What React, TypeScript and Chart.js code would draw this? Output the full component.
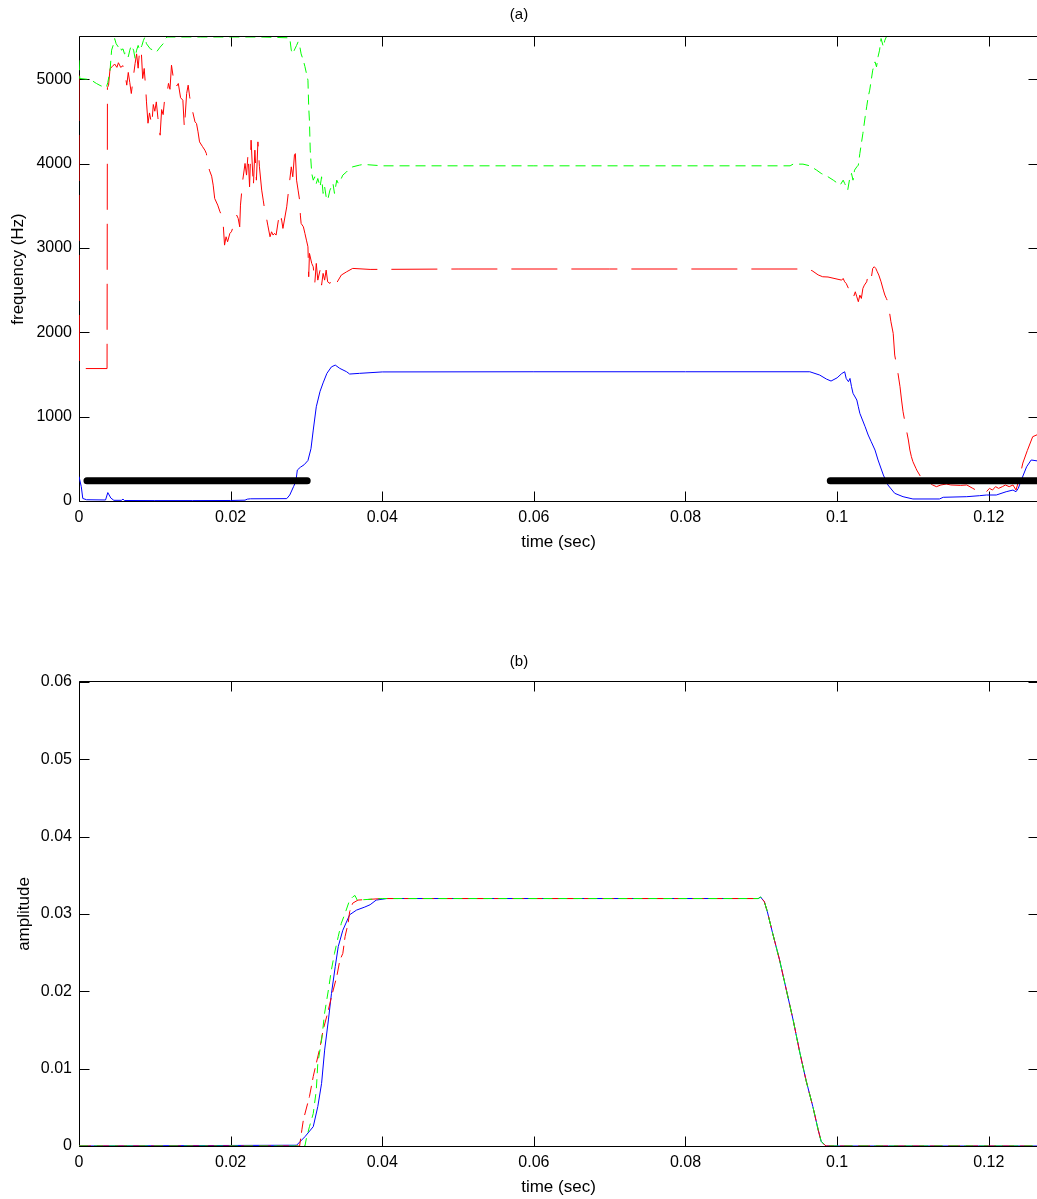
import React, { useEffect, useRef } from "react";
import { Chart, registerables } from "chart.js";

Chart.register(...registerables);

const FONT_FAMILY = "'Liberation Sans', Arial, Helvetica, sans-serif";

// ---------- tick labels ----------
const timeTicks = [0, 0.02, 0.04, 0.06, 0.08, 0.1, 0.12];
const freqTicks = [0, 1000, 2000, 3000, 4000, 5000];
const ampTicks = [0, 0.01, 0.02, 0.03, 0.04, 0.05, 0.06];

// ---------- (a) frequency tracks: [time (s), frequency (Hz)] ----------
const formant1: [number, number][] = [
  [0, 290], [0.0003, 170], [0.0005, 30], [0.001, 15], [0.0035, 12], [0.0038, 100], [0.0042, 35], [0.0046, 8],
  [0.0056, 8], [0.0058, 22], [0.006, 6], [0.01, 5], [0.015, 5], [0.02, 6], [0.0219, 10], [0.0222, 22], [0.0226, 26],
  [0.0274, 28], [0.0278, 71], [0.0283, 170], [0.0286, 230], [0.0288, 367], [0.0292, 400], [0.0297, 430], [0.0302, 480],
  [0.0306, 620], [0.0309, 841], [0.0313, 1117], [0.0318, 1300], [0.0322, 1400], [0.0327, 1513], [0.0333, 1590],
  [0.0338, 1611], [0.0344, 1572], [0.0353, 1532], [0.0357, 1505], [0.037, 1513], [0.04, 1530], [0.06, 1532],
  [0.08, 1532], [0.0964, 1532], [0.0977, 1493], [0.0986, 1445], [0.0992, 1422], [0.1, 1460], [0.1006, 1510],
  [0.101, 1532], [0.1012, 1453], [0.1015, 1414], [0.1017, 1453], [0.1019, 1355], [0.1021, 1276], [0.1026, 1197],
  [0.1028, 1117], [0.103, 1039], [0.1037, 880], [0.1041, 782], [0.1045, 703], [0.105, 604], [0.1054, 486],
  [0.1061, 308], [0.1067, 190], [0.1076, 91], [0.1087, 51], [0.11, 24], [0.1135, 24], [0.114, 44], [0.1171, 51],
  [0.1188, 63], [0.1197, 71], [0.121, 71], [0.1223, 110], [0.1232, 130], [0.1236, 110], [0.1239, 150], [0.1243, 249],
  [0.125, 406], [0.1256, 486], [0.1265, 474],
];

const formant2: [number, number][] = [
  [0, 5050], [0.00005, 1570], [0.0037, 1570], [0.00375, 4900], [0.0039, 4929], [0.0041, 5127], [0.0044, 5150],
  [0.0047, 5180], [0.005, 5140], [0.0052, 5195], [0.0055, 5140], [0.0058, 5160], [0.0061, 5047], [0.0063, 4929],
  [0.0065, 5080], [0.0067, 4960], [0.0069, 4830], [0.0072, 5050], [0.0074, 5186], [0.0076, 5300], [0.0078, 5130],
  [0.008, 5344], [0.0082, 5363], [0.0084, 5008], [0.0086, 5127], [0.0088, 4890], [0.0089, 4731], [0.0091, 4478],
  [0.0093, 4600], [0.0096, 4455], [0.0098, 4700], [0.01, 4620], [0.0102, 4731], [0.0104, 4550], [0.0107, 4336],
  [0.0109, 4640], [0.0111, 4580], [0.0113, 4770], [0.0116, 4820], [0.0118, 4950], [0.012, 4880], [0.0122, 5166],
  [0.0125, 4980], [0.0127, 5000], [0.0129, 4920], [0.0131, 4949], [0.0134, 4780], [0.0137, 4751], [0.0139, 4419],
  [0.0142, 4830], [0.0144, 4929], [0.0146, 4790], [0.0148, 4692], [0.015, 4613], [0.0153, 4494], [0.0155, 4475],
  [0.0157, 4376], [0.0159, 4257], [0.0163, 4200], [0.0166, 4159], [0.0168, 4119], [0.017, 4001], [0.0172, 3922],
  [0.0175, 3850], [0.0177, 3744], [0.0179, 3586], [0.0183, 3507], [0.0186, 3428], [0.0188, 3389], [0.019, 3310],
  [0.0192, 3033], [0.0194, 3132], [0.0196, 3073], [0.0199, 3172], [0.0201, 3191], [0.0205, 3290], [0.0208, 3389],
  [0.021, 3349], [0.0212, 3250], [0.0213, 3507], [0.0216, 3803], [0.0219, 4001], [0.0221, 3863], [0.0223, 4119],
  [0.0225, 3724], [0.0227, 4277], [0.023, 3724], [0.0232, 4159], [0.0234, 3803], [0.0236, 4257], [0.0238, 3961],
  [0.0241, 3685], [0.0243, 3566], [0.0245, 3448], [0.0247, 3369], [0.0249, 3270], [0.0252, 3132], [0.0254, 3191],
  [0.0256, 3152], [0.0258, 3172], [0.026, 3152], [0.0263, 3329], [0.0265, 3250], [0.0267, 3349], [0.0269, 3231],
  [0.0274, 3487], [0.0276, 3646], [0.0278, 3803], [0.028, 3961], [0.0282, 3843], [0.0285, 4198], [0.0287, 3803],
  [0.0289, 3685], [0.0291, 3566], [0.0292, 3389], [0.0293, 3290], [0.0296, 3250], [0.0298, 3172], [0.03, 3092],
  [0.0302, 3013], [0.0303, 2658], [0.0304, 2935], [0.0307, 2816], [0.0309, 2776], [0.0311, 2579], [0.0313, 2816],
  [0.0315, 2618], [0.0318, 2737], [0.032, 2559], [0.0322, 2698], [0.0324, 2618], [0.0326, 2737], [0.0328, 2598],
  [0.0331, 2579], [0.0333, 2618], [0.0335, 2598], [0.0337, 2638], [0.034, 2587], [0.0346, 2678], [0.0353, 2717],
  [0.0361, 2757], [0.0384, 2745], [0.05, 2750], [0.07, 2750], [0.0961, 2750], [0.0967, 2730], [0.0975, 2680],
  [0.0981, 2658], [0.0988, 2655], [0.1006, 2618], [0.1008, 2638], [0.101, 2598], [0.1012, 2579], [0.1015, 2520],
  [0.1017, 2480], [0.1019, 2461], [0.1021, 2401], [0.1024, 2480], [0.1026, 2420], [0.1028, 2362], [0.103, 2440],
  [0.1032, 2401], [0.1034, 2520], [0.1036, 2559], [0.1039, 2598], [0.1041, 2678], [0.1043, 2698], [0.1045, 2638],
  [0.1047, 2757], [0.1049, 2777], [0.1051, 2757], [0.1053, 2717], [0.1055, 2678], [0.1058, 2598], [0.1061, 2500],
  [0.1063, 2441], [0.1065, 2401], [0.1067, 2362], [0.1069, 2243], [0.1071, 2125], [0.1074, 1987], [0.1076, 1730],
  [0.108, 1532], [0.1083, 1354], [0.1085, 1197], [0.1087, 1058], [0.1091, 861], [0.1094, 723], [0.1096, 604],
  [0.1098, 525], [0.11, 466], [0.1104, 387], [0.1105, 367], [0.1112, 260], [0.1126, 190], [0.1131, 170],
  [0.1137, 190], [0.1144, 201], [0.115, 190], [0.1163, 185], [0.1171, 190], [0.1179, 150], [0.1183, 130],
  [0.1188, 99], [0.1192, 130], [0.1197, 110], [0.1201, 150], [0.1205, 130], [0.1209, 170], [0.1213, 150],
  [0.1218, 170], [0.1222, 190], [0.1227, 170], [0.1232, 190], [0.1236, 130], [0.1241, 288], [0.1245, 450],
  [0.1251, 600], [0.1258, 762], [0.1265, 790],
];

const formant3: [number, number][] = [
  [0, 5225], [0.0001, 5008], [0.001, 5000], [0.0016, 4990], [0.0023, 4949], [0.0029, 4920], [0.0036, 4901],
  [0.0038, 4960], [0.0041, 5107], [0.0043, 5344], [0.0045, 5400], [0.0047, 5482], [0.0049, 5420], [0.0052, 5380],
  [0.0054, 5400], [0.0056, 5344], [0.0058, 5360], [0.006, 5300], [0.0063, 5320], [0.0065, 5265], [0.0067, 5344],
  [0.0069, 5400], [0.0072, 5344], [0.0074, 5245], [0.0076, 5344], [0.0078, 5400], [0.008, 5344], [0.0083, 5400],
  [0.0085, 5460], [0.0087, 5500], [0.0089, 5420], [0.0094, 5360], [0.0098, 5344], [0.0102, 5320], [0.0107, 5380],
  [0.0111, 5420], [0.0114, 5480], [0.0116, 5500], [0.013, 5500], [0.016, 5500], [0.02, 5500], [0.024, 5500],
  [0.0278, 5490], [0.028, 5344], [0.0282, 5300], [0.0284, 5344], [0.0287, 5400], [0.0289, 5442], [0.0291, 5400],
  [0.0293, 5300], [0.0296, 5220], [0.0298, 5150], [0.0302, 4988], [0.0303, 4672], [0.0304, 4500], [0.0305, 4159],
  [0.0307, 3883], [0.0309, 3803], [0.0311, 3843], [0.0313, 3764], [0.0315, 3823], [0.0318, 3724], [0.032, 3843],
  [0.0322, 3646], [0.0324, 3724], [0.0326, 3606], [0.0328, 3566], [0.0331, 3685], [0.0333, 3724], [0.0335, 3764],
  [0.0337, 3646], [0.034, 3803], [0.0342, 3764], [0.0346, 3823], [0.0348, 3863], [0.0353, 3902], [0.0357, 3941],
  [0.0361, 3961], [0.037, 3981], [0.0375, 3990], [0.04, 3973], [0.06, 3973], [0.08, 3973], [0.0938, 3973],
  [0.0942, 3993], [0.0955, 3993], [0.0964, 3973], [0.0973, 3922], [0.0979, 3883], [0.0988, 3843], [0.0995, 3803],
  [0.1004, 3744], [0.1008, 3803], [0.101, 3764], [0.1014, 3685], [0.1017, 3843], [0.1019, 3883], [0.1021, 3803],
  [0.1023, 3922], [0.1026, 3961], [0.1028, 3981], [0.103, 4119], [0.1032, 4238], [0.1034, 4356], [0.1037, 4553],
  [0.1039, 4672], [0.1041, 4790], [0.1043, 4870], [0.1045, 4988], [0.1047, 5107], [0.105, 5205], [0.1052, 5146],
  [0.1054, 5265], [0.1056, 5344], [0.1058, 5482], [0.1061, 5383], [0.1063, 5462], [0.1065, 5502], [0.1068, 5600],
  [0.108, 5800],
];

// thick black bars (unvoiced regions) at a fixed frequency
const silenceBars: [number, number | null][] = [
  [0.00105, 240], [0.0301, 240], [0.065, null], [0.0991, 240], [0.1265, 240],
];

// ---------- (b) amplitude tracks: [time (s), amplitude] ----------
const amplitudeFall: [number, number][] = [
  [0.0896, 0.032], [0.0899, 0.0322], [0.0904, 0.0316], [0.0908, 0.0303], [0.0915, 0.0275], [0.0924, 0.0241],
  [0.0933, 0.0202], [0.0942, 0.0163], [0.0951, 0.012], [0.0959, 0.0085], [0.0968, 0.0051], [0.0975, 0.0021],
  [0.0979, 0.0006], [0.0984, 0.0001], [0.0986, 0], [0.1265, 0],
];

const amp1Rise: [number, number][] = [
  [0, 0], [0.0287, 0.0001], [0.0298, 0.0012], [0.0309, 0.0025], [0.0315, 0.0051], [0.032, 0.0081],
  [0.0324, 0.0124], [0.0329, 0.0163], [0.0333, 0.0197], [0.0338, 0.0232], [0.0342, 0.0258], [0.0348, 0.0279],
  [0.0357, 0.0299], [0.0366, 0.0305], [0.0377, 0.0309], [0.0384, 0.0312], [0.0392, 0.0318], [0.0406, 0.032],
];

const amp2Rise: [number, number][] = [
  [0, 0], [0.0291, 0], [0.0294, 0.0021], [0.0296, 0.0034], [0.0304, 0.0064], [0.0309, 0.009], [0.0313, 0.0107],
  [0.0318, 0.0128], [0.0322, 0.015], [0.0328, 0.0172], [0.0333, 0.0193], [0.034, 0.0219], [0.0344, 0.024],
  [0.0348, 0.0249], [0.0351, 0.0271], [0.0355, 0.0288], [0.0357, 0.0303], [0.0361, 0.0314], [0.0368, 0.0318],
  [0.04, 0.032],
];

const amp3Rise: [number, number][] = [
  [0, 0], [0.0298, 0], [0.03, 0.001], [0.0304, 0.0025], [0.0309, 0.0042], [0.0313, 0.0072], [0.0315, 0.0107],
  [0.032, 0.0137], [0.0324, 0.0172], [0.0329, 0.0202], [0.0333, 0.0228], [0.0337, 0.0249], [0.0342, 0.0271],
  [0.0346, 0.0288], [0.0351, 0.0301], [0.0357, 0.0318], [0.0361, 0.0322], [0.0364, 0.0324], [0.0367, 0.0318],
  [0.04, 0.032],
];

const amp1 = [...amp1Rise, ...amplitudeFall];
const amp2 = [...amp2Rise, ...amplitudeFall];
const amp3 = [...amp3Rise, ...amplitudeFall];

const toPoints = (pairs: [number, number | null][]) => pairs.map(([x, y]) => ({ x, y }));
const fmt = (v: any, scale: number) => String(Math.round(Number(v) * scale) / scale);

const frameTicks = {
  id: "frameTicks",
  beforeDatasetsDraw(chart: any) {
    const { ctx, chartArea } = chart;
    const left = Math.round(chartArea.left) + 0.5;
    const right = Math.round(chartArea.right) + 0.5;
    const top = Math.round(chartArea.top) - 0.5;
    const bottom = Math.round(chartArea.bottom) + 0.5;
    const len = 10;
    ctx.save();
    ctx.strokeStyle = "#000";
    ctx.lineWidth = 1;
    ctx.setLineDash([]);
    ctx.beginPath();
    ctx.rect(left, top, right - left, bottom - top);
    const xs = chart.scales.x;
    for (const t of xs.ticks) {
      const px = Math.round(xs.getPixelForValue(t.value)) + 0.5;
      ctx.moveTo(px, bottom);
      ctx.lineTo(px, bottom - len);
      ctx.moveTo(px, top);
      ctx.lineTo(px, top + len);
    }
    const ys = chart.scales.y;
    for (const t of ys.ticks) {
      const py = Math.round(ys.getPixelForValue(t.value)) + 0.5;
      ctx.moveTo(left, py);
      ctx.lineTo(left + len, py);
      ctx.moveTo(right, py);
      ctx.lineTo(right - len, py);
    }
    ctx.stroke();
    ctx.restore();
  },
};

const line = (data: any, color: string, dash: number[], width = 1) => ({
  type: "line",
  data,
  borderColor: color,
  backgroundColor: color,
  borderWidth: width,
  borderDash: dash,
  pointRadius: 0,
  tension: 0,
  fill: false,
  spanGaps: false,
});

function makeOptions(p: {
  title: string;
  titlePad: { top: number; bottom: number };
  xAxisHeight: number;
  xTitlePadBottom: number;
  yTitle: string;
  yTitlePadTop: number;
  yMax: number;
  yTicks: number[];
  yFmt: (v: any) => string;
}) {
  return {
    responsive: false,
    animation: false,
    devicePixelRatio: 1,
    layout: { padding: { top: 0, left: 0, right: 2, bottom: 0 } },
    plugins: {
      legend: { display: false },
      tooltip: { enabled: false },
      title: {
        display: true,
        text: p.title,
        color: "#000",
        font: { family: FONT_FAMILY, size: 15, weight: "normal" },
        padding: p.titlePad,
      },
    },
    scales: {
      x: {
        type: "linear",
        min: 0,
        max: 0.1265,
        grid: { display: false, drawTicks: false },
        border: { display: false },
        afterBuildTicks: (s: any) => {
          s.ticks = timeTicks.map((value) => ({ value }));
        },
        afterFit: (s: any) => {
          s.height = p.xAxisHeight;
        },
        ticks: {
          color: "#000",
          font: { family: FONT_FAMILY, size: 16 },
          padding: 7,
          maxRotation: 0,
          autoSkip: false,
          callback: (v: any) => fmt(v, 1000),
        },
        title: {
          display: true,
          text: "time (sec)",
          color: "#000",
          font: { family: FONT_FAMILY, size: 17 },
          padding: { top: 0, bottom: p.xTitlePadBottom },
        },
      },
      y: {
        type: "linear",
        min: 0,
        max: p.yMax,
        grid: { display: false, drawTicks: false },
        border: { display: false },
        afterBuildTicks: (s: any) => {
          s.ticks = p.yTicks.map((value) => ({ value }));
        },
        afterFit: (s: any) => {
          s.width = 79;
        },
        ticks: {
          color: "#000",
          font: { family: FONT_FAMILY, size: 16 },
          padding: 7,
          autoSkip: false,
          callback: p.yFmt,
        },
        title: {
          display: true,
          text: p.yTitle,
          color: "#000",
          font: { family: FONT_FAMILY, size: 17 },
          padding: { top: p.yTitlePadTop, bottom: 0 },
        },
      },
    },
  };
}

export default function App() {
  const topRef = useRef<HTMLCanvasElement | null>(null);
  const bottomRef = useRef<HTMLCanvasElement | null>(null);

  useEffect(() => {
    const top = new Chart(topRef.current as HTMLCanvasElement, {
      type: "line",
      data: {
        datasets: [
          line(toPoints(silenceBars), "#000000", [], 7) as any,
          line(toPoints(formant3), "#00ff00", [10, 6]) as any,
          line(toPoints(formant2), "#ff0000", [46, 14]) as any,
          line(toPoints(formant1), "#0000ff", []) as any,
        ].map((d: any, i: number) => (i === 0 ? { ...d, borderCapStyle: "round" } : d)),
      },
      options: makeOptions({
        title: "(a)",
        titlePad: { top: 6, bottom: 13 },
        xAxisHeight: 99,
        xTitlePadBottom: 47.8,
        yTitle: "frequency (Hz)",
        yTitlePadTop: 7.8,
        yMax: 5500,
        yTicks: freqTicks,
        yFmt: (v: any) => String(v),
      }) as any,
      plugins: [frameTicks],
    });

    const bottom = new Chart(bottomRef.current as HTMLCanvasElement, {
      type: "line",
      data: {
        datasets: [
          line(toPoints(amp3), "#00ff00", [9, 6]) as any,
          line(toPoints(amp2), "#ff0000", [12, 6]) as any,
          line(toPoints(amp1), "#0000ff", []) as any,
        ],
      },
      options: makeOptions({
        title: "(b)",
        titlePad: { top: 53, bottom: 11 },
        xAxisHeight: 53,
        xTitlePadBottom: 1.8,
        yTitle: "amplitude",
        yTitlePadTop: 13.8,
        yMax: 0.06,
        yTicks: ampTicks,
        yFmt: (v: any) => fmt(v, 10000),
      }) as any,
      plugins: [frameTicks],
    });

    return () => {
      top.destroy();
      bottom.destroy();
    };
  }, []);

  return (
    <div
      style={{
        position: "absolute",
        left: 0,
        top: 0,
        width: 1037,
        height: 1199,
        overflow: "hidden",
        background: "#fff",
      }}
    >
      <canvas
        ref={topRef}
        width={1040}
        height={600}
        style={{ position: "absolute", left: 0, top: 0, width: 1040, height: 600 }}
      />
      <canvas
        ref={bottomRef}
        width={1040}
        height={599}
        style={{ position: "absolute", left: 0, top: 600, width: 1040, height: 599 }}
      />
    </div>
  );
}
